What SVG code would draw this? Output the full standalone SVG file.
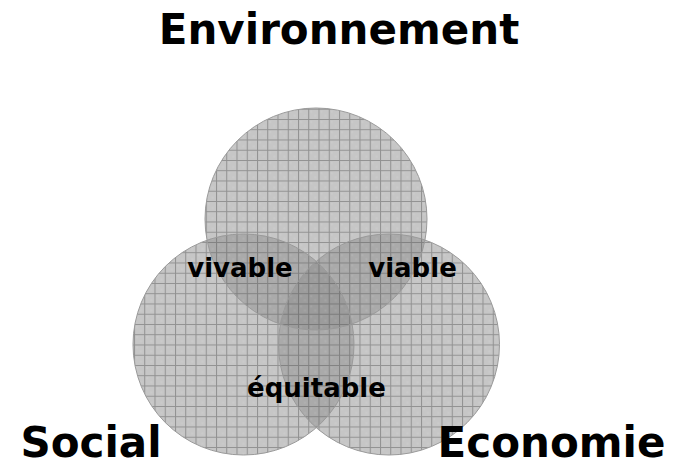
<svg xmlns="http://www.w3.org/2000/svg" width="675" height="467" viewBox="0 0 675 467">
<style>
.shade{fill:#8f8f8f;fill-opacity:0.51;stroke:none}
.rim{fill:none;stroke:#9a9a9a;stroke-width:1}
.big{font-family:"DejaVu Sans","Verdana",sans-serif;font-weight:bold;font-size:42px;fill:#000;text-anchor:middle}
.small{font-family:"DejaVu Sans","Verdana",sans-serif;font-weight:bold;font-size:26px;fill:#000;text-anchor:middle}
</style>
<defs>
<pattern id="grid" patternUnits="userSpaceOnUse" x="0.75" y="6.25" width="10.25" height="10.25">
<rect x="2" y="2" width="2" height="2" fill="#ffffff" fill-opacity="0.08"/>
<rect x="6" y="6" width="2" height="2" fill="#ffffff" fill-opacity="0.08"/>
<path d="M0 0.5H10.25M0.5 0V10.25" stroke="#505050" stroke-opacity="0.45" stroke-width="1" fill="none"/>
</pattern>
<clipPath id="union">
<circle cx="316" cy="219" r="111"/>
<circle cx="243.5" cy="344.5" r="110.5"/>
<circle cx="389" cy="344.5" r="110.5"/>
</clipPath>
</defs>
<g id="connectors"/>
<g id="environnement">
<circle class="shade" cx="316" cy="219" r="111"/>
</g>
<g id="social">
<circle class="shade" cx="243.5" cy="344.5" r="110.5"/>
</g>
<g id="economie">
<circle class="shade" cx="389" cy="344.5" r="110.5"/>
</g>
<g id="texture">
<rect x="120" y="100" width="400" height="370" fill="url(#grid)" clip-path="url(#union)"/>
<circle class="rim" cx="316" cy="219" r="111"/>
<circle class="rim" cx="243.5" cy="344.5" r="110.5"/>
<circle class="rim" cx="389" cy="344.5" r="110.5"/>
</g>
<g id="labels">
<text class="big" x="339" y="44">Environnement</text>
<text class="big" x="91" y="457">Social</text>
<text class="big" x="551.5" y="457">Economie</text>
<text class="small" x="240" y="277">vivable</text>
<text class="small" x="412.5" y="277">viable</text>
<text class="small" x="316.5" y="397">équitable</text>
</g>
</svg>
